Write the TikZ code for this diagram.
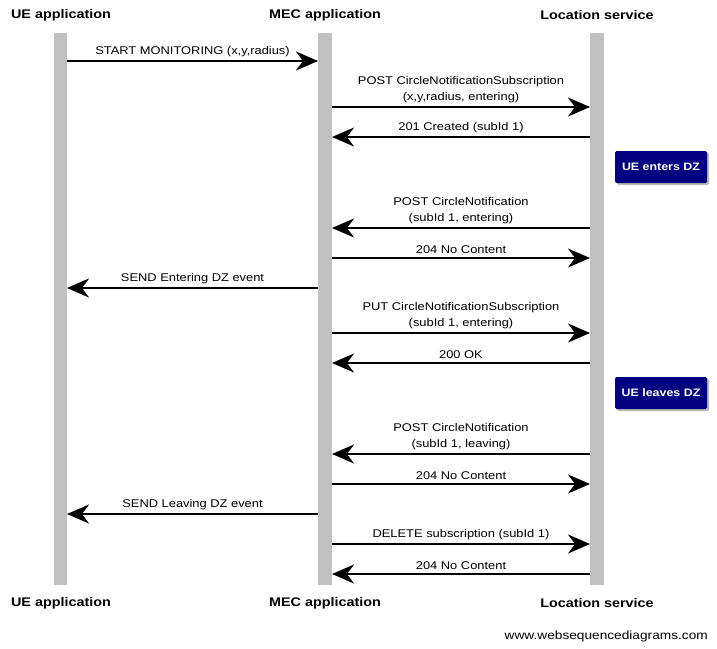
\documentclass[tikz,border=0pt]{standalone}
\usepackage{fontspec}
\setmainfont{Liberation Sans}
\newfontfamily\wsdfont[FakeStretch=1.15]{Liberation Sans}
\usetikzlibrary{arrows.meta,shadows}
\definecolor{lifegray}{RGB}{192,192,192}
\definecolor{notenavy}{RGB}{0,0,128}
\tikzset{
  lifeline/.style={draw=none,fill=lifegray},
  header/.style={font=\wsdfont\bfseries\fontsize{12.5}{14}\selectfont,inner sep=0pt},
  msg/.style={line width=2pt,-{Stealth[length=22pt,width=19pt,inset=7pt]}},
  lbl/.style={font=\wsdfont\fontsize{11.2}{16}\selectfont,inner sep=0pt,align=center,above=3pt},
  notebox/.style={fill=notenavy,text=white,font=\wsdfont\bfseries\fontsize{10.8}{12}\selectfont,
     rounded corners=1.5pt,minimum width=92pt,minimum height=32pt,inner sep=0pt,
     drop shadow={shadow xshift=2pt,shadow yshift=-2pt,fill=black!45,opacity=0.6}},
}
\begin{document}
\begin{tikzpicture}[x=1pt,y=-1pt]
\useasboundingbox[fill=white] (0,0) rectangle (717,648);
% lifelines
\fill[lifeline] (54,33) rectangle (67,585);
\fill[lifeline] (318,33) rectangle (332,585);
\fill[lifeline] (590,33) rectangle (604,585);
% headers
\node[header] (hue) at (61,15) {UE application};
\node[header] (hmec) at (325,15) {MEC application};
\node[header] (hloc) at (597,15) {Location service};
\node[header] (fue) at (61,603) {UE application};
\node[header] (fmec) at (325,603) {MEC application};
\node[header] (floc) at (597,603) {Location service};
\node[font=\wsdfont\fontsize{11.9}{14}\selectfont,inner sep=0pt,anchor=east] (web) at (708,636) {www.websequencediagrams.com};
% coordinates on lifelines
\foreach \i/\y in {1/61,2/107,3/137,5/228,6/258,7/288,8/333,9/363,11/454,12/484,13/514,14/544,15/574}{
  \coordinate (u\i) at (67,\y);
  \coordinate (ml\i) at (318,\y);
  \coordinate (mr\i) at (332,\y);
  \coordinate (l\i) at (590,\y);
}
\draw[msg] (u1) -- (ml1) node[lbl,midway] {START MONITORING (x,y,radius)};
\draw[msg] (mr2) -- (l2) node[lbl,midway] {POST CircleNotificationSubscription\\(x,y,radius, entering)};
\draw[msg] (l3) -- (mr3) node[lbl,midway] {201 Created (subId 1)};
\node[notebox] (n1) at (661,167) {UE enters DZ};
\draw[msg] (l5) -- (mr5) node[lbl,midway] {POST CircleNotification\\(subId 1, entering)};
\draw[msg] (mr6) -- (l6) node[lbl,midway] {204 No Content};
\draw[msg] (ml7) -- (u7) node[lbl,midway] {SEND Entering DZ event};
\draw[msg] (mr8) -- (l8) node[lbl,midway] {PUT CircleNotificationSubscription\\(subId 1, entering)};
\draw[msg] (l9) -- (mr9) node[lbl,midway] {200 OK};
\node[notebox] (n2) at (661,393) {UE leaves DZ};
\draw[msg] (l11) -- (mr11) node[lbl,midway] {POST CircleNotification\\(subId 1, leaving)};
\draw[msg] (mr12) -- (l12) node[lbl,midway] {204 No Content};
\draw[msg] (ml13) -- (u13) node[lbl,midway] {SEND Leaving DZ event};
\draw[msg] (mr14) -- (l14) node[lbl,midway] {DELETE subscription (subId 1)};
\draw[msg] (l15) -- (mr15) node[lbl,midway] {204 No Content};
\end{tikzpicture}
\end{document}
